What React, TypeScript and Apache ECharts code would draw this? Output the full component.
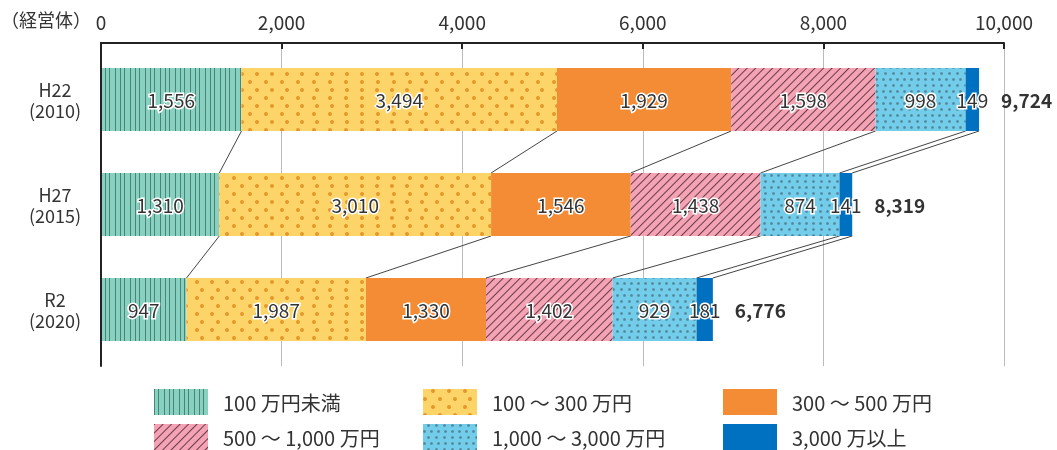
import React, { useEffect, useRef } from "react";
import * as echarts from "echarts";

const categories = ["H22\n(2010)", "H27\n(2015)", "R2\n(2020)"];
const seriesNames = [
  "100 万円未満",
  "100 ～ 300 万円",
  "300 ～ 500 万円",
  "500 ～ 1,000 万円",
  "1,000 ～ 3,000 万円",
  "3,000 万以上",
];
const under100 = [1556, 1310, 947];
const r100to300 = [3494, 3010, 1987];
const r300to500 = [1929, 1546, 1330];
const r500to1000 = [1598, 1438, 1402];
const r1000to3000 = [998, 874, 929];
const over3000 = [149, 141, 181];
const totals = [9724, 8319, 6776];
const xTicks = [0, 2000, 4000, 6000, 8000, 10000];

const FONT = '"Noto Sans CJK JP", "Noto Sans", sans-serif';
const BAR_W = 63;

const fmt = (v: number) => v.toLocaleString("en-US");

export default function App() {
  const ref = useRef<HTMLDivElement>(null);
  useEffect(() => {
    if (!ref.current) return;
    const chart = echarts.init(ref.current, undefined, { renderer: "svg" });
    const allSeries = [under100, r100to300, r300to500, r500to1000, r1000to3000, over3000];

    const colors = ["#88d0bf", "#fdd468", "#f48b35", "#f4a3b4", "#72cdea", "#0070c0"];
    const decals: any[] = [
      { symbol: "rect", color: "rgba(45,100,90,0.7)", dashArrayX: [1, 3, 1, 5, 1, 4], dashArrayY: [1, 0], symbolSize: 1, rotation: 0 },
      { symbol: "circle", color: "#e6982c", dashArrayX: [[4, 11], [0, 7.5, 4, 3.5]], dashArrayY: [4, 3.7], symbolSize: 1, rotation: 0 },
      null,
      { symbol: "rect", color: "rgba(70,30,40,0.8)", dashArrayX: [1, 0], dashArrayY: [1, 5], symbolSize: 1, rotation: -Math.PI / 4 },
      { symbol: "circle", color: "rgba(70,100,115,0.7)", dashArrayX: [[3, 3.5], [0, 3.2, 3, 0.3]], dashArrayY: [3, 3], symbolSize: 0.9, rotation: 0 },
      null,
    ];

    const cum: number[][] = categories.map((_, ci) => {
      let s = 0;
      return allSeries.map((arr) => (s += arr[ci]));
    });
    const connectorData: number[][] = [];
    for (let ci = 0; ci < categories.length - 1; ci++) {
      for (let k = 0; k < allSeries.length; k++) {
        connectorData.push([cum[ci][k], ci, cum[ci + 1][k], ci + 1]);
      }
    }

    const barSeries = allSeries.map((arr, i) => ({
      name: seriesNames[i],
      type: "bar",
      stack: "total",
      barWidth: BAR_W,
      xAxisIndex: 1,
      yAxisIndex: 1,
      data: arr,
      itemStyle: decals[i] ? { color: colors[i], decal: decals[i] } : { color: colors[i] },
      label: {
        show: true,
        position: "inside",
        formatter: (p: any) => fmt(p.value),
        fontFamily: FONT,
        fontSize: 19,
        color: "#333",
        textBorderColor: "#fff",
        textBorderWidth: 3,
      },
      z: 3,
    }));

    const legendCommon = {
      orient: "vertical",
      icon: "rect",
      itemWidth: 54,
      itemHeight: 26,
      itemGap: 9,
      top: 389,
      height: 80,
      padding: 0,
      textStyle: { fontFamily: FONT, fontSize: 20, color: "#333", padding: [0, 0, 0, 10] },
    };

    const xMin = xTicks[0];
    const xMax = xTicks[xTicks.length - 1];

    chart.setOption({
      animation: false,
      textStyle: { fontFamily: FONT },
      grid: [
        { left: 101, right: 53, top: 43, bottom: 84 },
        { left: 101, right: 53, top: 47, bottom: 88 },
      ],
      legend: [
        { ...legendCommon, left: 154, data: [seriesNames[0], seriesNames[3]] },
        { ...legendCommon, left: 423, data: [seriesNames[1], seriesNames[4]] },
        { ...legendCommon, left: 723, data: [seriesNames[2], seriesNames[5]] },
      ],
      xAxis: [
        {
          type: "value",
          gridIndex: 0,
          position: "top",
          min: xMin,
          max: xMax,
          interval: 2000,
          axisLine: { show: true, lineStyle: { color: "#222", width: 2 } },
          axisTick: { show: true, inside: true, length: 6, lineStyle: { color: "#222", width: 2 } },
          splitLine: { show: true, lineStyle: { color: "#bbb", width: 1 } },
          axisLabel: {
            fontFamily: FONT,
            fontSize: 19,
            color: "#333",
            margin: 12,
            formatter: (v: number) => fmt(v),
          },
        },
        {
          type: "value",
          gridIndex: 1,
          position: "top",
          min: xMin,
          max: xMax,
          interval: 2000,
          show: false,
          splitLine: { show: false },
        },
      ],
      yAxis: [
        {
          type: "category",
          gridIndex: 0,
          inverse: true,
          data: categories,
          axisLine: { show: true, lineStyle: { color: "#222", width: 2 } },
          axisTick: { show: false },
          axisLabel: { show: false },
          z: 5,
        },
        {
          type: "category",
          gridIndex: 1,
          inverse: true,
          data: categories,
          axisLine: { show: false },
          axisTick: { show: false },
          axisLabel: {
            fontFamily: FONT,
            fontSize: 18,
            color: "#333",
            lineHeight: 21,
            align: "center",
            margin: 46,
          },
        },
      ],
      graphic: [
        {
          type: "text",
          left: 1,
          top: 10,
          style: { text: "（経営体）", fontFamily: FONT, fontSize: 18, fill: "#333" },
        },
      ],
      series: [
        ...barSeries,
        {
          type: "custom",
          name: "connectors",
          xAxisIndex: 1,
          yAxisIndex: 1,
          data: connectorData,
          silent: true,
          z: 2,
          renderItem: (params: any, api: any) => {
            const p1 = api.coord([api.value(0), api.value(1)]);
            const p2 = api.coord([api.value(2), api.value(3)]);
            return {
              type: "line",
              shape: { x1: p1[0], y1: p1[1] + BAR_W / 2, x2: p2[0], y2: p2[1] - BAR_W / 2 },
              style: { stroke: "#444", lineWidth: 1 },
            };
          },
        },
        {
          type: "custom",
          name: "totals",
          xAxisIndex: 1,
          yAxisIndex: 1,
          data: totals.map((t, i) => [t, i]),
          silent: true,
          z: 4,
          renderItem: (params: any, api: any) => {
            const p = api.coord([api.value(0), api.value(1)]);
            return {
              type: "text",
              x: p[0] + 22,
              y: p[1],
              style: {
                text: fmt(api.value(0)),
                fontFamily: FONT,
                fontSize: 19,
                fontWeight: "bold",
                fill: "#333",
                textAlign: "left",
                textVerticalAlign: "middle",
              },
            };
          },
        },
      ],
    });
    return () => chart.dispose();
  }, []);
  return (
    <div
      ref={ref}
      style={{ position: "fixed", left: 0, top: 0, width: 1057, height: 450 }}
    />
  );
}
